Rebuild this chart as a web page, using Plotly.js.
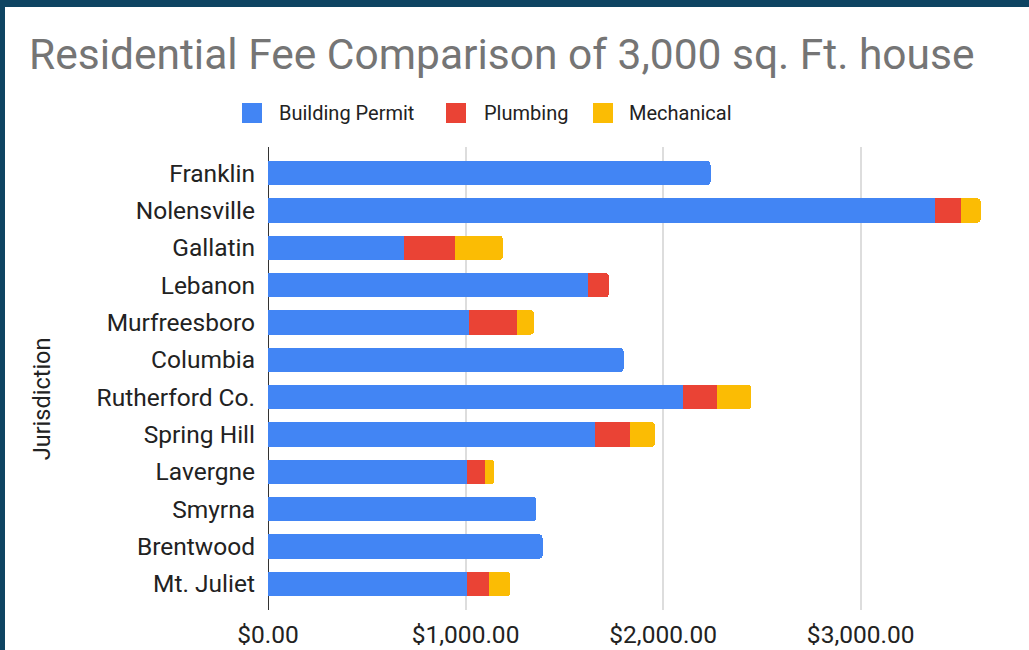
<!DOCTYPE html>
<html>
<head>
<meta charset="utf-8">
<script src="https://cdn.plot.ly/plotly-3.0.1.min.js"></script>
<style>
  html, body { margin: 0; padding: 0; background: #0e4462; width: 1029px; height: 650px; overflow: hidden; }
  #chart { position: absolute; left: 5px; top: 7px; width: 1024px; height: 643px; background: #ffffff; }
</style>
</head>
<body>
<div id="chart"></div>
<script>
// ---- Data ----
const jurisdictions = ["Franklin", "Nolensville", "Gallatin", "Lebanon", "Murfreesboro", "Columbia",
  "Rutherford Co.", "Spring Hill", "Lavergne", "Smyrna", "Brentwood", "Mt. Juliet"];
const buildingPermit = [2240, 3375, 688, 1622, 1018, 1800, 2100, 1655, 1005, 1358, 1390, 1005];
const plumbing       = [0, 135, 258, 103, 243, 0, 174, 175, 93, 0, 0, 115];
const mechanical     = [0, 97, 243, 0, 85, 0, 172, 130, 47, 0, 0, 106];
const seriesNames = ["Building Permit", "Plumbing", "Mechanical"];
const seriesColors = ["#4285f4", "#ea4335", "#fbbc04"];
const xTickVals = [0, 1000, 2000, 3000];

// ---- Layout geometry (div is 1024 x 643) ----
const W = 1024, H = 643;
const M = { l: 263, r: 30, t: 140, b: 40 };
const PW = W - M.l - M.r, PH = H - M.t - M.b;
const px = x => (x - M.l) / PW;          // div px -> paper x
const py = y => (H - M.b - y) / PH;      // div px -> paper y

const FONT = "Roboto, Arial, sans-serif";

const traces = [buildingPermit, plumbing, mechanical].map((vals, i) => ({
  type: "bar",
  orientation: "h",
  name: seriesNames[i],
  y: jurisdictions,
  x: vals,
  marker: Object.assign({ color: seriesColors[i], line: { width: 0 } }, i === 2 ? { cornerradius: 4 } : {}),
  hoverinfo: "x+y+name",
  showlegend: false
}));

// custom legend (large rounded squares like the reference)
const legendItems = [
  { sq: 237, tx: 272 },
  { sq: 441, tx: 477 },
  { sq: 588, tx: 622 }
];
const legendY = 106; // div px centre
const shapes = [];
const annotations = [];
legendItems.forEach((it, i) => {
  shapes.push({
    type: "rect", xref: "paper", yref: "paper",
    x0: px(it.sq), x1: px(it.sq + 20), y0: py(legendY + 10), y1: py(legendY - 10),
    fillcolor: seriesColors[i], line: { width: 0 }
  });
  annotations.push({
    xref: "paper", yref: "paper", x: px(it.tx), y: py(legendY),
    xanchor: "left", yanchor: "middle", showarrow: false,
    text: seriesNames[i], font: { family: FONT, size: 20, color: "#222222" }
  });
});

const layout = {
  width: W, height: H,
  margin: M,
  paper_bgcolor: "#ffffff",
  plot_bgcolor: "#ffffff",
  barmode: "stack",
  bargap: 0.345,
  showlegend: false,
  title: {
    text: "Residential Fee Comparison of 3,000 sq. Ft. house",
    xref: "container", yref: "container",
    x: 24 / W, xanchor: "left",
    y: 1 - 47 / H, yanchor: "middle",
    font: { family: FONT, size: 42.5, color: "#757575" }
  },
  xaxis: {
    range: [0, 3700],
    tickvals: xTickVals,
    tickformat: "$,.2f",
    showgrid: true, gridcolor: "#dddddd", gridwidth: 2,
    zeroline: true, zerolinecolor: "#333333", zerolinewidth: 1,
    showline: false, ticks: "",
    ticklabelstandoff: 7,
    tickfont: { family: FONT, size: 24.5, color: "#222222" },
    fixedrange: true
  },
  yaxis: {
    type: "category",
    range: [11.7, -0.7],
    showgrid: false, zeroline: false, showline: false, ticks: "",
    ticklabelstandoff: 12,
    tickfont: { family: FONT, size: 24.5, color: "#222222" },
    title: { text: "Jurisdiction" + "&nbsp;".repeat(7), standoff: 39, font: { family: FONT, size: 23.5, color: "#222222" } },
    fixedrange: true
  },
  shapes: shapes,
  annotations: annotations,
  font: { family: FONT }
};

Plotly.newPlot("chart", traces, layout, { displayModeBar: false });
</script>
</body>
</html>
